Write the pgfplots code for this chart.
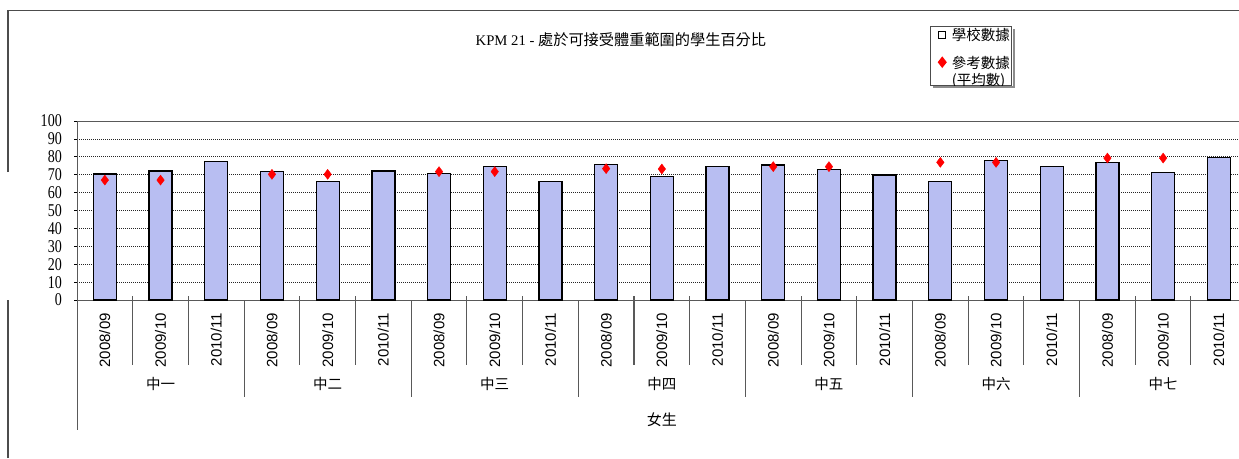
\documentclass[border=0pt]{standalone}
\usepackage{fontspec}
\setmainfont{Liberation Serif}
\newfontfamily\cjk{Noto Sans CJK TC}
\newfontfamily\lsans{Liberation Sans}
\newfontfamily\yfont[FakeStretch=0.78]{Liberation Serif}
\usepackage{pgfplots}
\pgfplotsset{compat=1.18}
\definecolor{barfill}{RGB}{184,190,242}
\begin{document}
\begin{tikzpicture}
\useasboundingbox (0pt,0pt) rectangle (1239pt,-458pt);
\clip (0pt,0pt) rectangle (1239pt,-458pt);
\fill[white] (0pt,0pt) rectangle (1239pt,-458pt);
\draw[line width=1.2pt, black!70] (8pt,-458pt) -- (8pt,-300pt);
\draw[line width=1.2pt, black!70] (8pt,-172pt) -- (8pt,-10.5pt) -- (1245pt,-10.5pt);
\begin{axis}[
  at={(77pt,-300pt)}, anchor=south west,
  scale only axis, width=1169.7pt, height=179pt,
  clip=false,
  xmin=-0.5, xmax=20.5, ymin=0, ymax=100,
  ytick={0,10,...,100},
  xtick={0,...,20},
  xticklabels={2008/09,2009/10,2010/11,2008/09,2009/10,2010/11,2008/09,2009/10,2010/11,2008/09,2009/10,2010/11,2008/09,2009/10,2010/11,2008/09,2009/10,2010/11,2008/09,2009/10,2010/11},
  xticklabel style={rotate=90, anchor=east, inner sep=0pt, font=\lsans\fontsize{15}{15}\selectfont},
  xticklabel shift=10pt,
  xtick style={draw=none},
  tick align=outside, major tick length=3pt,
  ytick style={black, line width=0.8pt},
  yticklabel style={anchor=east, inner sep=0pt, font=\yfont\fontsize{18}{18}\selectfont},
  yticklabel shift=12pt,
  /pgf/number format/assume math mode=true,
  ymajorgrids,
  grid style={black!85, line width=0.8pt, dash pattern=on 1pt off 1pt},
  axis line style={black!65, line width=1pt},
  title={{\fontsize{14.7}{16}\selectfont KPM 21 - }{\cjk\fontsize{15.2}{17}\selectfont 處於可接受體重範圍的學生百分比}},
  title style={at={(0.465,1.42)}, anchor=center, inner sep=0pt},
  xlabel={\cjk\fontsize{15}{15}\selectfont 女生},
  xlabel style={at={(axis description cs:0.5,-0.6704)}, anchor=center, inner sep=0pt},
  legend style={name=leg, at={(0.7293,1.5307)}, anchor=north west, draw=black!70, line width=1pt,
    fill=white, inner sep=1pt, row sep=12.1pt, column sep=4.4pt,
    nodes={inner sep=0.9pt, font=\cjk\fontsize{14.5}{16.3}\selectfont, line width=1pt}},
  legend cell align=left,
]
\addplot[ybar, bar width=23pt, fill=barfill, draw=black, line width=1.3pt,
  legend image code/.code={\path[draw=none, fill=none] (-10.7pt,-5pt) rectangle (4pt,5pt);
    \draw[black, line width=1pt, fill=white] (-3.5pt,-3.5pt) rectangle (3.5pt,3.5pt);}]
  coordinates {(0,70.4) (1,72.1) (2,77.5) (3,71.9) (4,66.3) (5,72.1) (6,70.8) (7,74.5) (8,66.1) (9,75.8) (10,68.9) (11,74.5) (12,75.4) (13,73.0) (14,69.8) (15,66.3) (16,78.0) (17,74.5) (18,76.9) (19,71.3) (20,79.7)};
\addlegendentry{學校數據\hspace{13pt}}
\addplot[only marks, mark=diamond*, mark size=5pt, color=red, mark options={fill=red, draw=red},
  legend image code/.code={\path[draw=none, fill=none] (-10.7pt,-5pt) rectangle (4pt,5pt);
    \fill[red] (0pt,12.5pt) -- (3.9pt,7.5pt) -- (0pt,2.5pt) -- (-3.9pt,7.5pt) -- cycle;}]
  coordinates {(0,67.0) (1,67.0) (3,70.2) (4,70.2) (6,71.7) (7,71.7) (9,73.4) (10,73.2) (12,74.5) (13,74.5) (15,76.9) (16,76.9) (18,79.3) (19,79.3)};
\addlegendentry{\begin{tabular}{@{}l@{}}參考數據\\(平均數)\rule[-15pt]{0pt}{15pt}\end{tabular}}
\pgfplotsinvokeforeach{0.5,1.5,3.5,4.5,6.5,7.5,9.5,10.5,12.5,13.5,15.5,16.5,18.5,19.5}{
  \draw[black!65, line width=1pt] (axis cs:#1,0) ++(0pt,4pt) -- ++(0pt,-69pt);}
\pgfplotsinvokeforeach{2.5,5.5,8.5,11.5,14.5,17.5,20.5}{
  \draw[black!65, line width=1pt] (axis cs:#1,0) -- ++(0pt,-97pt);}
\draw[black!65, line width=1pt] (axis cs:-0.5,0) -- ++(0pt,-130pt);
\node[font=\cjk\fontsize{14.5}{14.5}\selectfont, inner sep=0pt] at (axis cs:1,0) [yshift=-84pt] {中一};
\node[font=\cjk\fontsize{14.5}{14.5}\selectfont, inner sep=0pt] at (axis cs:4,0) [yshift=-84pt] {中二};
\node[font=\cjk\fontsize{14.5}{14.5}\selectfont, inner sep=0pt] at (axis cs:7,0) [yshift=-84pt] {中三};
\node[font=\cjk\fontsize{14.5}{14.5}\selectfont, inner sep=0pt] at (axis cs:10,0) [yshift=-84pt] {中四};
\node[font=\cjk\fontsize{14.5}{14.5}\selectfont, inner sep=0pt] at (axis cs:13,0) [yshift=-84pt] {中五};
\node[font=\cjk\fontsize{14.5}{14.5}\selectfont, inner sep=0pt] at (axis cs:16,0) [yshift=-84pt] {中六};
\node[font=\cjk\fontsize{14.5}{14.5}\selectfont, inner sep=0pt] at (axis cs:19,0) [yshift=-84pt] {中七};
\end{axis}
\draw[black!45, line width=2pt] ([xshift=1.5pt,yshift=-3pt]leg.north east) -- ([xshift=1.5pt,yshift=-1.5pt]leg.south east) -- ([xshift=3pt,yshift=-1.5pt]leg.south west);
\end{tikzpicture}
\end{document}
